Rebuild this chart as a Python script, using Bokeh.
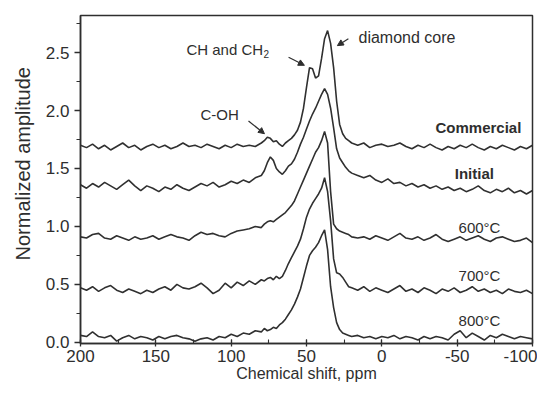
from bokeh.plotting import figure
from bokeh.models import (Range1d, SingleIntervalTicker, NumeralTickFormatter, PrintfTickFormatter,
                          Label, Arrow, NormalHead, ColumnDataSource, Title)
from bokeh.embed import file_html
from bokeh.resources import INLINE

# chemical shift grid (ppm)
shift = [200, 196, 192, 188, 184, 180, 176, 172, 168, 164, 160, 156, 152, 148, 144,
         140, 136, 132, 128, 124, 120, 116, 112, 108, 104, 100, 96, 92, 88, 84, 80,
         78, 76, 74, 72, 70, 68, 66, 64, 62, 60, 58, 56, 54, 52, 50, 48, 46, 44, 42,
         40, 38, 36, 34, 32, 30, 28, 26, 24, 22, 20,
         16, 12, 8, 4, 0, -4, -8, -12, -16, -20, -24, -28, -32, -36, -40, -44, -48,
         -52, -56, -60, -64, -68, -72, -76, -80, -84, -88, -92, -96, -100]

commercial = [1.70, 1.68, 1.71, 1.67, 1.70, 1.66, 1.69, 1.72, 1.68, 1.70, 1.66, 1.69, 1.71, 1.68, 1.70,
              1.67, 1.69, 1.72, 1.69, 1.70, 1.68, 1.71, 1.69, 1.67, 1.70, 1.68, 1.71, 1.69, 1.70, 1.69, 1.72,
              1.74, 1.77, 1.76, 1.73, 1.74, 1.71, 1.69, 1.72, 1.74, 1.76, 1.79, 1.83, 1.90, 2.02, 2.20, 2.37,
              2.36, 2.28, 2.30, 2.45, 2.62, 2.69, 2.58, 2.37, 2.08, 1.88, 1.80, 1.76, 1.74, 1.72,
              1.70, 1.72, 1.68, 1.70, 1.71, 1.69, 1.70, 1.72, 1.69, 1.67, 1.70, 1.68, 1.71, 1.68, 1.66,
              1.69, 1.67, 1.70, 1.68, 1.71, 1.68, 1.66, 1.69, 1.67, 1.70, 1.68, 1.66, 1.69, 1.67, 1.70]

initial = [1.36, 1.33, 1.37, 1.34, 1.38, 1.35, 1.32, 1.36, 1.40, 1.35, 1.31, 1.35, 1.33, 1.30, 1.34,
           1.32, 1.36, 1.33, 1.31, 1.34, 1.37, 1.35, 1.38, 1.34, 1.36, 1.39, 1.37, 1.40, 1.38, 1.42, 1.44,
           1.48, 1.55, 1.60, 1.57, 1.50, 1.47, 1.45, 1.48, 1.52, 1.54, 1.58, 1.64, 1.71, 1.77, 1.84, 1.91,
           1.97, 2.02, 2.08, 2.14, 2.19, 2.14, 2.02, 1.85, 1.67, 1.59, 1.55, 1.51, 1.48, 1.46,
           1.44, 1.42, 1.44, 1.40, 1.38, 1.41, 1.37, 1.38, 1.35, 1.37, 1.34, 1.36, 1.33, 1.35, 1.32,
           1.34, 1.31, 1.33, 1.30, 1.32, 1.35, 1.31, 1.29, 1.32, 1.30, 1.33, 1.29, 1.31, 1.28, 1.31]

t600 = [0.91, 0.90, 0.93, 0.94, 0.90, 0.89, 0.92, 0.90, 0.88, 0.91, 0.89, 0.90, 0.92, 0.89, 0.91,
        0.93, 0.91, 0.90, 0.88, 0.92, 0.95, 0.93, 0.94, 0.92, 0.91, 0.94, 0.96, 0.97, 0.98, 1.00, 0.99,
        1.02, 1.04, 1.05, 1.04, 1.06, 1.08, 1.10, 1.12, 1.15, 1.18, 1.22, 1.28, 1.34, 1.40, 1.46, 1.52,
        1.58, 1.64, 1.68, 1.74, 1.82, 1.72, 1.30, 1.02, 0.98, 0.96, 0.95, 0.94, 0.93, 0.91,
        0.90, 0.91, 0.89, 0.92, 0.90, 0.88, 0.91, 0.94, 0.90, 0.89, 0.91, 0.88, 0.90, 0.93, 0.89,
        0.87, 0.89, 0.91, 0.88, 0.90, 0.92, 0.89, 0.87, 0.90, 0.91, 0.89, 0.87, 0.88, 0.90, 0.86]

t700 = [0.47, 0.45, 0.48, 0.44, 0.47, 0.49, 0.45, 0.43, 0.46, 0.44, 0.42, 0.45, 0.43, 0.46, 0.48,
        0.45, 0.50, 0.47, 0.46, 0.48, 0.51, 0.47, 0.42, 0.45, 0.51, 0.47, 0.52, 0.49, 0.53, 0.50, 0.54,
        0.53, 0.55, 0.56, 0.54, 0.57, 0.55, 0.57, 0.62, 0.68, 0.73, 0.78, 0.83, 0.89, 0.98, 1.08, 1.15,
        1.20, 1.24, 1.28, 1.33, 1.42, 1.30, 1.05, 0.72, 0.60, 0.59, 0.56, 0.52, 0.48, 0.47,
        0.45, 0.48, 0.44, 0.47, 0.45, 0.43, 0.46, 0.49, 0.44, 0.46, 0.43, 0.47, 0.45, 0.42, 0.46,
        0.44, 0.47, 0.43, 0.45, 0.48, 0.44, 0.46, 0.43, 0.45, 0.42, 0.46, 0.44, 0.43, 0.45, 0.42]

t800 = [0.06, 0.05, 0.09, 0.05, 0.04, 0.06, 0.01, 0.04, 0.06, 0.03, 0.05, 0.04, 0.02, 0.05, 0.03,
        0.05, 0.06, 0.04, 0.03, 0.01, 0.03, 0.04, 0.02, 0.05, 0.04, 0.07, 0.05, 0.08, 0.07, 0.10, 0.09,
        0.12, 0.10, 0.11, 0.13, 0.12, 0.15, 0.17, 0.20, 0.24, 0.28, 0.33, 0.39, 0.46, 0.56, 0.66, 0.75,
        0.79, 0.82, 0.86, 0.92, 0.97, 0.80, 0.48, 0.30, 0.17, 0.11, 0.08, 0.07, 0.06, 0.05,
        0.06, 0.04, 0.05, 0.03, 0.05, 0.04, 0.06, 0.03, 0.05, 0.04, 0.02, 0.05, 0.03, 0.05, 0.04,
        0.02, 0.07, 0.10, 0.04, 0.08, 0.05, 0.02, 0.06, 0.04, 0.07, 0.05, 0.03, 0.05, 0.04, 0.03]

series_names = ["Commercial", "Initial", "600°C", "700°C", "800°C"]

FONT = "Liberation Sans"
INK = "#2e2e2e"

p = figure(width=537, height=387, output_backend="svg", toolbar_location=None,
           x_range=Range1d(200, -100), y_range=Range1d(-0.01, 2.82))
p.min_border_left = 79
p.min_border_right = 5
p.min_border_top = 15
p.min_border_bottom = 44
p.background_fill_color = "white"
p.border_fill_color = "white"
p.grid.visible = False
p.outline_line_color = INK
p.outline_line_width = 1.5
p.outline_line_alpha = 1.0

src = ColumnDataSource(dict(x=shift, c=commercial, i=initial, a=t600, b=t700, d=t800))
for col in ["c", "i", "a", "b", "d"]:
    p.line("x", col, source=src, line_color="#303030", line_width=1.6)

# axes
p.xaxis.ticker = SingleIntervalTicker(interval=50, num_minor_ticks=2)
p.yaxis.ticker = SingleIntervalTicker(interval=0.5, num_minor_ticks=2)
p.xaxis.formatter = PrintfTickFormatter(format="%d")
p.yaxis.formatter = NumeralTickFormatter(format="0.0")
for ax in [p.xaxis[0], p.yaxis[0]]:
    ax.axis_line_color = INK
    ax.axis_line_width = 1.5
    ax.major_tick_line_color = INK
    ax.minor_tick_line_color = INK
    ax.major_tick_line_width = 1.3
    ax.minor_tick_line_width = 1.1
    ax.major_label_text_font = FONT
    ax.major_label_text_font_size = "17px"
    ax.major_label_text_color = INK

p.xaxis.major_tick_in = 4
p.xaxis.major_tick_out = 3
p.xaxis.minor_tick_in = 4
p.xaxis.minor_tick_out = 0
p.xaxis.major_label_standoff = 3
p.xaxis.axis_label = "Chemical shift, ppm"
p.xaxis.axis_label_text_font = FONT
p.xaxis.axis_label_text_font_size = "16px"
p.xaxis.axis_label_text_font_style = "normal"
p.xaxis.axis_label_text_color = INK
p.xaxis.axis_label_standoff = 0

p.yaxis.major_tick_in = 0
p.yaxis.major_tick_out = 6
p.yaxis.minor_tick_in = 0
p.yaxis.minor_tick_out = 4
p.yaxis.major_label_standoff = 5

# y-axis title, set off-centre (towards the top) like the original
p.add_layout(Title(text="Normalized amplitude", align="left", offset=83, standoff=18,
                   text_font=FONT, text_font_size="20px", text_font_style="normal",
                   text_color=INK), "left")

# trace labels
label_x = [-92.6, -61.4, -64.8, -64.8, -64.8]
label_y = [1.85, 1.46, 0.99, 0.58, 0.19]
label_align = ["right", "center", "center", "center", "center"]
label_style = ["bold", "bold", "normal", "normal", "normal"]
for name, lx, ly, al, st in zip(series_names, label_x, label_y, label_align, label_style):
    p.add_layout(Label(x=lx, y=ly, text=name, text_font=FONT, text_font_size="15px",
                       text_font_style=st, text_color=INK, text_align=al,
                       text_baseline="middle"))

# peak annotations
p.add_layout(Label(x=15.5, y=2.63, text="diamond core", text_font=FONT,
                   text_font_size="16px", text_color=INK, text_baseline="middle"))
p.add_layout(Label(x=129.7, y=2.53, text="CH and CH", text_font=FONT,
                   text_font_size="15px", text_color=INK, text_baseline="middle"))
p.add_layout(Label(x=129.7, y=2.53, x_offset=77, y_offset=-5, text="2", text_font=FONT,
                   text_font_size="10px", text_color=INK, text_baseline="middle"))
p.add_layout(Label(x=120.4, y=1.97, text="C-OH", text_font=FONT,
                   text_font_size="15px", text_color=INK, text_baseline="middle"))

arrows = [(22.2, 2.62, 29.5, 2.56), (61.9, 2.46, 51.4, 2.39), (88.5, 1.91, 77.9, 1.80)]
for xs, ys, xe, ye in arrows:
    p.add_layout(Arrow(x_start=xs, y_start=ys, x_end=xe, y_end=ye, line_color=INK,
                       line_width=1.2,
                       end=NormalHead(size=6, fill_color=INK, line_color=INK)))

open("out.html", "w").write(file_html(p, INLINE))
